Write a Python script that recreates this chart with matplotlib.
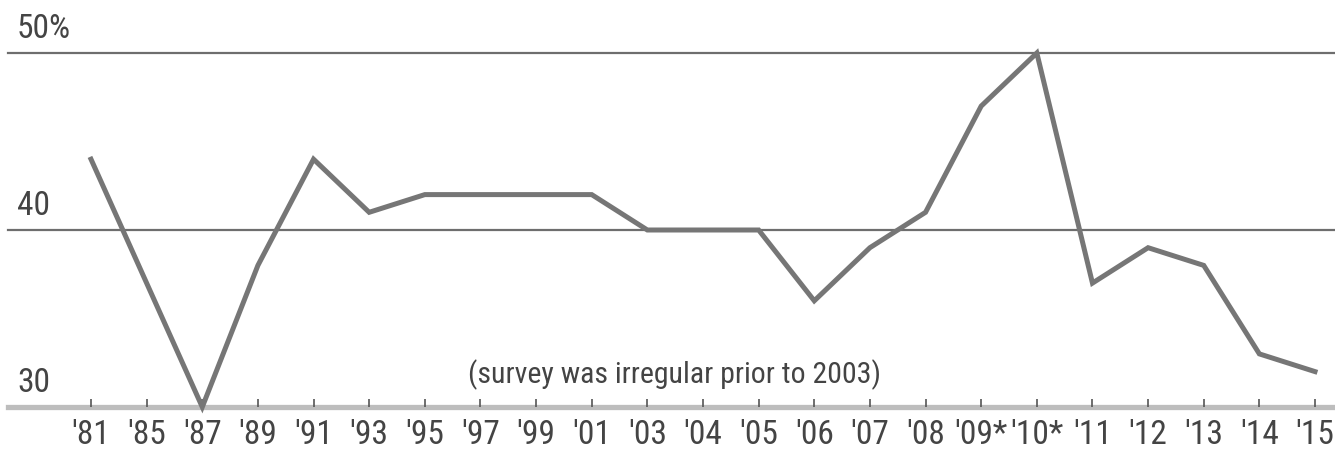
import numpy as np
import matplotlib.pyplot as plt
from matplotlib import font_manager

# data
years = ["'81", "'85", "'87", "'89", "'91", "'93", "'95", "'97", "'99", "'01",
         "'03", "'04", "'05", "'06", "'07", "'08", "'09*", "'10*", "'11", "'12",
         "'13", "'14", "'15"]
share = [44, 37, 30, 38, 44, 41, 42, 42, 42, 42,
         40, 40, 40, 36, 39, 41, 47, 50, 37, 39,
         38, 33, 32]
grid_vals = [30, 40, 50]
grid_labels = ['30', '40', '50%']
note = '(survey was irregular prior to 2003)'

# the original uses a very narrow font; take a condensed one if there is one
names = {f.name for f in font_manager.fontManager.ttflist}
narrow = [n for n in ['Liberation Sans Narrow', 'Roboto Condensed', 'Open Sans Condensed',
                      'DejaVu Sans Condensed', 'Noto Sans Condensed'] if n in names]
cond_files = [f for f in font_manager.fontManager.ttflist
              if f.stretch in ('condensed', 'semi-condensed', 'extra-condensed', 600, 700)
              or 'Condensed' in f.fname]
fstretch = 'normal'
if narrow:
    plt.rcParams['font.family'] = [narrow[0], 'DejaVu Sans']
    fs, fs_note = 24, 21.5
elif cond_files:
    plt.rcParams['font.family'] = [cond_files[0].name, 'DejaVu Sans']
    fstretch = cond_files[0].stretch
    fs, fs_note = 21, 18
else:
    plt.rcParams['font.family'] = ['DejaVu Sans']
    fs, fs_note = 18, 17

W, H = 1335, 457
fig = plt.figure(figsize=(W / 100, H / 100), dpi=100)
# axes: from x=8px to right edge, y=407px (30) up to y=53px (50)
ax = fig.add_axes([8 / W, (H - 407) / H, 1 - 8 / W, (407 - 53) / H])

x = np.arange(len(years))
step = (1315 - 91) / (len(years) - 1)
ax.set_xlim(-(91 - 8) / step, len(years) - 1 + (1335 - 1315) / step)
ax.set_ylim(30, 50)

# gridlines + baseline
for v in grid_vals[1:]:
    ax.axhline(v, color='#6e6e6e', lw=1.6, clip_on=False, zorder=1)
ax.axhline(30, color='#bdbdbd', lw=3.8, clip_on=False, zorder=1)

ax.plot(x, share, color='#767676', lw=3.6, solid_joinstyle='miter',
        clip_on=False, zorder=3)

for v, lab in zip(grid_vals, grid_labels):
    ax.text(9 / (W - 8), v + 0.45, lab, transform=ax.get_yaxis_transform(),
            ha='left', va='bottom', fontsize=fs, color='#444444', fontstretch=fstretch)

ax.text(675, H - 375, note, transform=None, ha='center', va='center',
        fontsize=fs_note, color='#444444', fontstretch=fstretch)

ax.set_xticks(x)
ax.set_xticklabels(years, fontsize=fs, color='#444444', fontstretch=fstretch)
ax.tick_params(axis='x', direction='in', length=6, width=1.2, color='#555555', pad=9)
ax.set_yticks([])
for s in ax.spines.values():
    s.set_visible(False)

fig.savefig('out.png', dpi=100)
